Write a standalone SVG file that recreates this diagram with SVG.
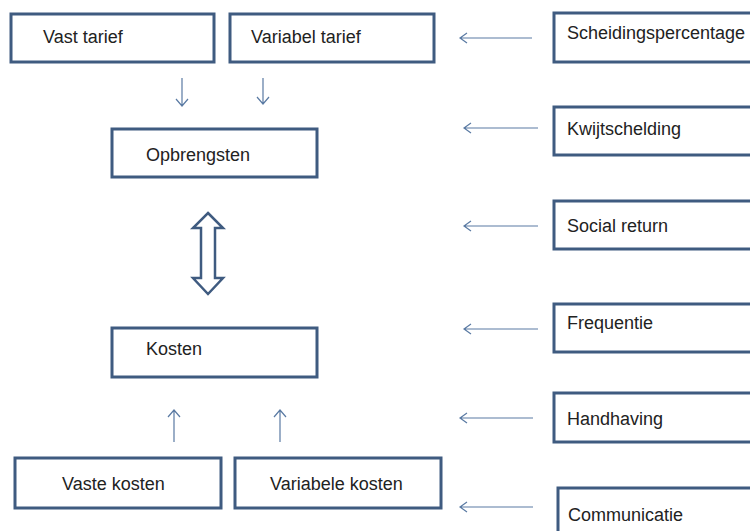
<svg xmlns="http://www.w3.org/2000/svg" width="750" height="531" viewBox="0 0 750 531">
<style>
.box{fill:#fff;stroke:#3f5b80;stroke-width:3}
.t{font-family:"Liberation Sans",Arial,sans-serif;font-size:18px;fill:#222}
.c{stroke:#5a7aa3;stroke-width:1.2;fill:none}
.dbl{fill:#fff;stroke:#3f5b80;stroke-width:2.5;stroke-linejoin:miter}
</style>
<rect width="750" height="531" fill="#fff"/>
<g id="vast-tarief"><rect class="box" x="11" y="14" width="203" height="48"/><text class="t" x="43" y="43">Vast tarief</text></g>
<g id="variabel-tarief"><rect class="box" x="230" y="14" width="204" height="48"/><text class="t" x="251" y="43">Variabel tarief</text></g>
<g id="opbrengsten"><rect class="box" x="112" y="129" width="205" height="48"/><text class="t" x="146" y="161">Opbrengsten</text></g>
<g id="kosten"><rect class="box" x="112" y="328" width="205" height="49"/><text class="t" x="146" y="355">Kosten</text></g>
<g id="vaste-kosten"><rect class="box" x="15" y="458" width="206" height="50"/><text class="t" x="62" y="490">Vaste kosten</text></g>
<g id="variabele-kosten"><rect class="box" x="235" y="458" width="206" height="50"/><text class="t" x="270" y="490">Variabele kosten</text></g>
<g id="scheidingspercentage"><rect class="box" x="554" y="13" width="220" height="49"/><text class="t" x="567" y="39">Scheidingspercentage</text></g>
<g id="kwijtschelding"><rect class="box" x="554" y="107" width="220" height="48"/><text class="t" x="567" y="135">Kwijtschelding</text></g>
<g id="social-return"><rect class="box" x="554" y="201" width="220" height="48"/><text class="t" x="567" y="232">Social return</text></g>
<g id="frequentie"><rect class="box" x="554" y="304" width="220" height="48"/><text class="t" x="567" y="329">Frequentie</text></g>
<g id="handhaving"><rect class="box" x="554" y="393" width="220" height="49"/><text class="t" x="567" y="425">Handhaving</text></g>
<g id="communicatie"><rect class="box" x="558" y="488" width="220" height="60"/><text class="t" x="568" y="521">Communicatie</text></g>
<g id="connectors">
<path class="c" d="M182 78V106M176 99L182 106L188 99"/>
<path class="c" d="M263 78V104M257 97L263 104L269 97"/>
<path class="c" d="M174 442V410M168 417L174 410L180 417"/>
<path class="c" d="M280 442V410M274 417L280 410L286 417"/>
<path class="c" d="M532 38H460M467 33L460 38L467 43"/>
<path class="c" d="M538 128H464M471 123L464 128L471 133"/>
<path class="c" d="M538 226H464M471 221L464 226L471 231"/>
<path class="c" d="M538 329H464M471 324L464 329L471 334"/>
<path class="c" d="M533 418H460M467 413L460 418L467 423"/>
<path class="c" d="M533 507H460M467 502L460 507L467 512"/>
<path class="dbl" d="M208 213L223 228H215V278H223L208 294L193 278H201V228H193Z"/>
</g>
</svg>
